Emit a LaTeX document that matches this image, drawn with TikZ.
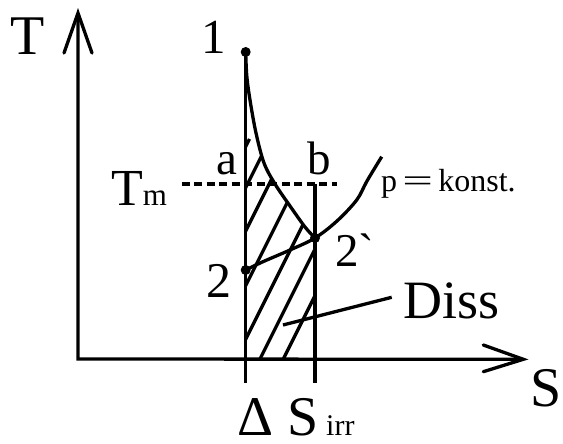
\documentclass[tikz,border=0pt]{standalone}
\usepackage{fontspec}
\setmainfont{Liberation Serif}
\usepackage{graphicx}
\newcommand\fsz[1]{\fontsize{#1}{#1}\selectfont}
\begin{document}
\begin{tikzpicture}[x=1pt,y=-1pt,line width=3.3pt,
  lbl/.style={anchor=base,inner sep=0pt,outer sep=0pt},
  dotmark/.style={circle,fill=black,inner sep=0pt,minimum size=10pt},
  hatchline/.style={line width=3.3pt},
  tipline/.style={line width=3.3pt,line cap=round,line join=miter},
  dashline/.style={line width=3.3pt,dash pattern=on 8pt off 4.5pt}]
\useasboundingbox (0,0) rectangle (563,444);
% coordinates
\coordinate (O) at (78,359);
\coordinate (Ttip) at (78,13);
\coordinate (TL) at (64,53);
\coordinate (TR) at (92,53);
\coordinate (Stip) at (523.3,359.3);
\coordinate (SU) at (483.3,345);
\coordinate (SD) at (483.3,371.7);
\coordinate (P1) at (245.7,52);
\coordinate (P2) at (245.7,270);
\coordinate (P2s) at (315,238);
\coordinate (Lbot) at (245.7,383);
\coordinate (Rtop) at (315,184);
\coordinate (Rbot) at (315,383);
\coordinate (Dl) at (181.7,184);
\coordinate (Dr) at (336.7,184);
\coordinate (dA) at (283,325);
\coordinate (dB) at (391.7,297.3);
% hatching
\begin{scope}
\clip (245.7,359) -- (315,359) -- (P2s) -- plot[smooth,tension=0.55] coordinates {(315,238) (305,227) (290,206) (275,184) (264,163) (256,133) (250,100) (246.8,76) (245.7,52)} -- cycle;
\foreach \x in {139.5,160,181.7,209,235.8,260,283.3}
  \draw[hatchline] (\x,359) -- ++(110,-220);
\end{scope}
% vertical lines
\draw (P1) -- (Lbot);
\draw (Rtop) -- (Rbot);
% dashed Tm line
\draw[dashline] (Dl) -- (Dr);
% curves
\draw plot[smooth,tension=0.55] coordinates {(245.7,52) (246.8,76) (250,100) (256,133) (264,163) (275,184) (290,206) (305,227) (315,238)};
\draw plot[smooth,tension=0.55] coordinates {(245.7,270) (263,261.7) (290,250) (315,238) (337,221) (356.7,200) (367,181) (381.7,156.7)};
% axes
\draw[line join=miter] (Ttip) -- (O) -- (Stip);
\draw[tipline] (TL) -- (Ttip) -- (TR);
\draw[tipline] (SU) -- (Stip) -- (SD);
% Diss leader
\draw (dA) -- (dB);
% dots
\node[dotmark] (d1) at (P1) {};
\node[dotmark] (d2) at (P2) {};
\node[dotmark] (d2s) at (P2s) {};
% labels
\node[lbl] (Tlab) at (27.5,55) {\fsz{56}T};
\node[lbl] (l1) at (213.5,53.3) {\fsz{49}1};
\node[lbl] (la) at (226.5,175) {\fsz{47}a};
\node[lbl] (lb) at (319,175) {\fsz{47}b};
\node[lbl] (lTm) at (139,205) {\fsz{52}T\fsz{31}m};
\node[lbl] (l2) at (219,297) {\fsz{50}2};
\node[lbl,anchor=base west] (l2s) at (335,266.7) {\fsz{47}2\textasciigrave};
\node[lbl,anchor=base west] (lp) at (381,191.7) {\fsz{32}p\,\scalebox{1.7}[1]{=}\,konst.};
\node[lbl] (lD) at (452,318) {\fsz{54}Diss};
\node[lbl] (lS) at (546,406.7) {\fsz{56}S};
\node[lbl] (lds) at (296,435) {\fsz{56}Δ S\fsz{30} irr};
\end{tikzpicture}
\end{document}
